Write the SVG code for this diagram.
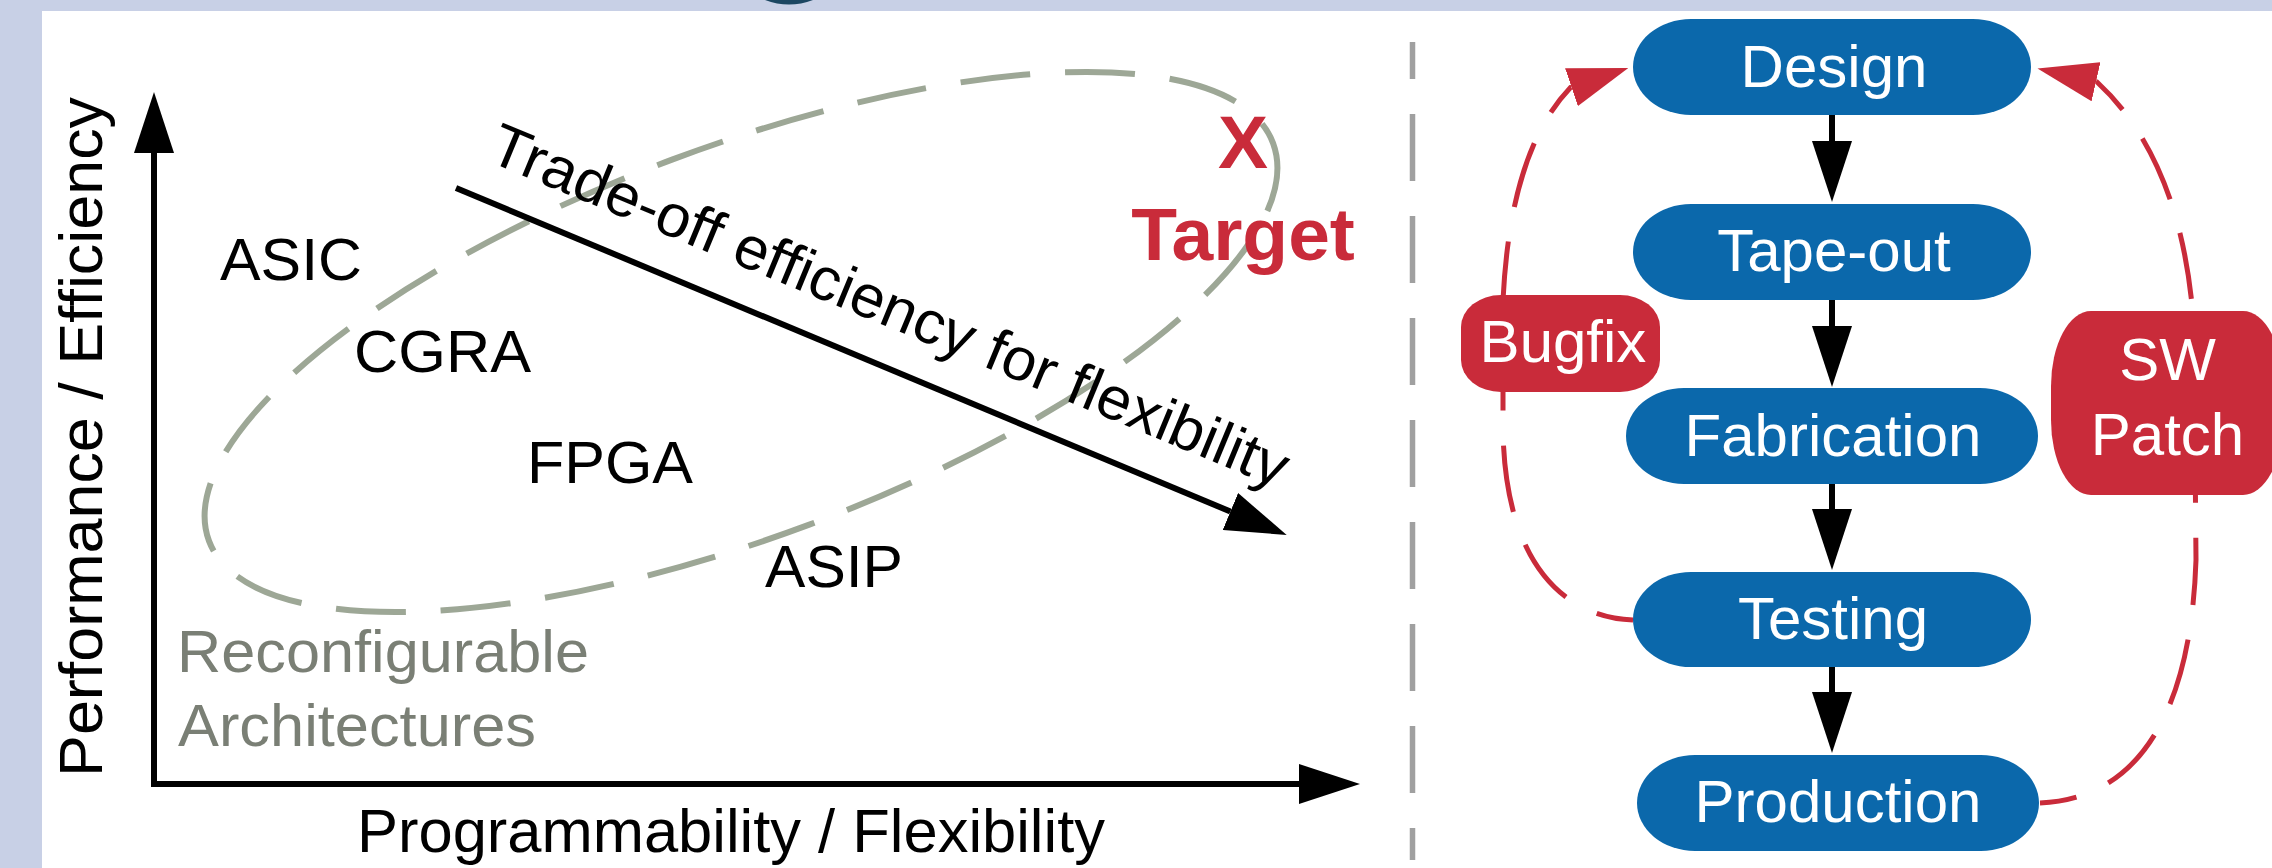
<svg xmlns="http://www.w3.org/2000/svg" width="2272" height="868" viewBox="0 0 2272 868">
<defs>
<style>
text{font-family:"Liberation Sans",Arial,sans-serif}
.lbl{font-size:60px;fill:#000}
.axl{font-size:61px;fill:#000}
.gray{font-size:60px;fill:#7a7f75}
.tgt{font-size:75px;font-weight:bold;fill:#c92b3a;text-anchor:middle}
.node rect{fill:#0b68ab}
.node text{font-size:60px;fill:#fff;text-anchor:middle}
.red rect{fill:#c92b3a}
.red text{font-size:60px;fill:#fff;text-anchor:middle}
.blk{fill:none;stroke:#000;stroke-width:6}
.rdash{fill:none;stroke:#c92b3a;stroke-width:5;stroke-dasharray:67 35;stroke-dashoffset:30}
</style>
<marker id="ahB" markerUnits="userSpaceOnUse" viewBox="0 0 61 40" markerWidth="61" markerHeight="40" refX="0" refY="20" orient="auto-start-reverse"><path d="M0,0 L61,20 L0,40 Z" fill="#000"/></marker>
<marker id="ahR" markerUnits="userSpaceOnUse" viewBox="0 0 60 40" markerWidth="60" markerHeight="40" refX="0" refY="20" orient="auto"><path d="M0,0 L60,20 L0,40 Z" fill="#c92b3a"/></marker>
</defs>
<rect x="0" y="0" width="2272" height="868" fill="#c8d0e6"/>
<rect x="42" y="11" width="2230" height="857" fill="#fff"/>
<path d="M765,0 Q789,9 813,0 Z" fill="#1c4762"/>

<g id="chart">
<ellipse cx="741" cy="342" rx="568" ry="195" transform="rotate(-20.5 741 342)" fill="none" stroke="#9da796" stroke-width="6" stroke-dasharray="70 35"/>
<path class="blk" d="M154,153 L154,784 L1299,784" marker-start="url(#ahB)" marker-end="url(#ahB)"/>
<path class="blk" d="M456,188 L1230.4,511.5" stroke-width="5.5" marker-end="url(#ahB)"/>
<text class="axl" transform="translate(102,437) rotate(-90)" text-anchor="middle" textLength="680" lengthAdjust="spacingAndGlyphs" style="font-size:62px">Performance / Efficiency</text>
<text class="axl" x="357" y="852" textLength="748" lengthAdjust="spacingAndGlyphs">Programmability / Flexibility</text>
<text class="lbl" transform="translate(485.7,160.3) rotate(22.5)" textLength="858" lengthAdjust="spacingAndGlyphs">Trade-off efficiency for flexibility</text>
<text class="lbl" x="220" y="280" textLength="142" lengthAdjust="spacingAndGlyphs">ASIC</text>
<text class="lbl" x="354" y="372" textLength="177" lengthAdjust="spacingAndGlyphs">CGRA</text>
<text class="lbl" x="527" y="483" textLength="166" lengthAdjust="spacingAndGlyphs">FPGA</text>
<text class="lbl" x="765" y="587" textLength="138" lengthAdjust="spacingAndGlyphs">ASIP</text>
<text class="gray" x="177" y="672" textLength="412" lengthAdjust="spacingAndGlyphs">Reconfigurable</text>
<text class="gray" x="178" y="746" textLength="358" lengthAdjust="spacingAndGlyphs">Architectures</text>
<text class="tgt" x="1243" y="168">X</text>
<text class="tgt" x="1243" y="260">Target</text>
</g>

<line x1="1412.5" y1="42" x2="1412.5" y2="860" stroke="#a0a0a0" stroke-width="5.5" stroke-dasharray="67 35" stroke-dashoffset="30"/>

<g id="connectors">
<path class="blk" d="M1832,115 L1832,141" marker-end="url(#ahB)"/>
<path class="blk" d="M1832,300 L1832,326" marker-end="url(#ahB)"/>
<path class="blk" d="M1832,484 L1832,509" marker-end="url(#ahB)"/>
<path class="blk" d="M1832,667 L1832,692" marker-end="url(#ahB)"/>
<path class="rdash" d="M1633,620 C1570,618 1505,570 1503,430 L1503,300 C1508,200 1530,130 1570.5,87.5 l0.95,-0.32" marker-end="url(#ahR)"/>
<path class="rdash" d="M2040,803 C2120,800 2190,740 2196,560 L2194,330 C2188,230 2160,140 2097,82 l-0.97,-0.22" marker-end="url(#ahR)"/>
</g>

<g id="design" class="node"><rect x="1633" y="19" width="398" height="96" rx="58" ry="48"/><text x="1834" y="87">Design</text></g>
<g id="tapeout" class="node"><rect x="1633" y="204" width="398" height="96" rx="58" ry="48"/><text x="1834" y="271">Tape-out</text></g>
<g id="fabrication" class="node"><rect x="1626" y="388" width="412" height="96" rx="58" ry="48"/><text x="1833" y="456">Fabrication</text></g>
<g id="testing" class="node"><rect x="1633" y="572" width="398" height="95" rx="58" ry="48"/><text x="1833" y="639">Testing</text></g>
<g id="production" class="node"><rect x="1637" y="755" width="402" height="96" rx="58" ry="48"/><text x="1838" y="822">Production</text></g>

<g id="bugfix" class="red"><rect x="1461" y="295" width="199" height="97" rx="40" ry="32"/><text x="1563" y="362">Bugfix</text></g>
<g id="swpatch" class="red"><rect x="2051" y="311" width="232" height="184" rx="40" ry="75"/><text x="2167.5" y="380">SW</text><text x="2167.5" y="455">Patch</text></g>
</svg>
